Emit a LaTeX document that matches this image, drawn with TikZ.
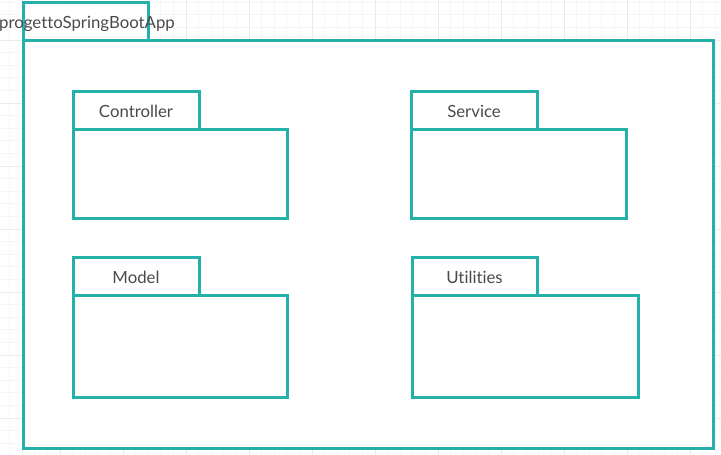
\documentclass[tikz,border=0pt]{standalone}
\usepackage{fontspec}
\setmainfont[Ligatures=NoCommon]{Lato}
\definecolor{pkgteal}{RGB}{35,177,170}
\definecolor{txtgray}{RGB}{74,74,74}
\definecolor{gridminor}{RGB}{246,246,246}
\definecolor{gridmajor}{RGB}{235,235,235}
\tikzset{
  pkgline/.style={draw=pkgteal, line width=3pt, fill=white, inner sep=0pt, outer sep=0pt, anchor=north west},
  pkglbl/.style={text=txtgray, inner sep=0pt, anchor=base, font=\fontsize{16.8}{19}\selectfont},
  minorline/.style={draw=gridminor, line width=0.8pt},
  majorline/.style={draw=gridmajor, line width=1pt}
}
\begin{document}
\begin{tikzpicture}[x=1pt,y=-1pt]
\useasboundingbox[fill=white] (0,0) rectangle (721,455);
% background grid
\foreach \i in {0,...,58} { \draw[minorline] ({-3+12.6*\i},0) -- ({-3+12.6*\i},455); }
\foreach \j in {-4,...,33} { \draw[minorline] (0,{40+12.6*\j}) -- (721,{40+12.6*\j}); }
\foreach \i in {0,...,12} { \draw[majorline] ({-3+63*\i},0) -- ({-3+63*\i},455); }
\foreach \j in {-1,...,7} { \draw[majorline] (0,{40+63*\j}) -- (721,{40+63*\j}); }
% main package
\node[pkgline, minimum width=690pt, minimum height=408pt] (appbody) at (23,40) {};
\node[pkgline, minimum width=125pt, minimum height=38pt] (apptab) at (23,2) {};
\node[pkglbl] (applbl) at ([xshift=1.5pt,yshift=-7.5pt]apptab.center) {progettoSpringBootApp};
% Controller
\node[pkgline, minimum width=214pt, minimum height=89pt] (ctrlbody) at (73,129) {};
\node[pkgline, minimum width=126pt, minimum height=38pt] (ctrltab) at (73,91) {};
\node[pkglbl] (ctrllbl) at ([yshift=-7.5pt]ctrltab.center) {Controller};
% Service
\node[pkgline, minimum width=215pt, minimum height=89pt] (servbody) at (411,129) {};
\node[pkgline, minimum width=126pt, minimum height=38pt] (servtab) at (411,91) {};
\node[pkglbl] (servlbl) at ([yshift=-7.5pt]servtab.center) {Service};
% Model
\node[pkgline, minimum width=214pt, minimum height=102pt] (modbody) at (73,295) {};
\node[pkgline, minimum width=126pt, minimum height=38pt] (modtab) at (73,257) {};
\node[pkglbl] (modlbl) at ([yshift=-7.5pt]modtab.center) {Model};
% Utilities
\node[pkgline, minimum width=226pt, minimum height=102pt] (utilbody) at (412,295) {};
\node[pkgline, minimum width=125pt, minimum height=38pt] (utiltab) at (412,257) {};
\node[pkglbl] (utillbl) at ([yshift=-7.5pt]utiltab.center) {Utilities};
\end{tikzpicture}
\end{document}
